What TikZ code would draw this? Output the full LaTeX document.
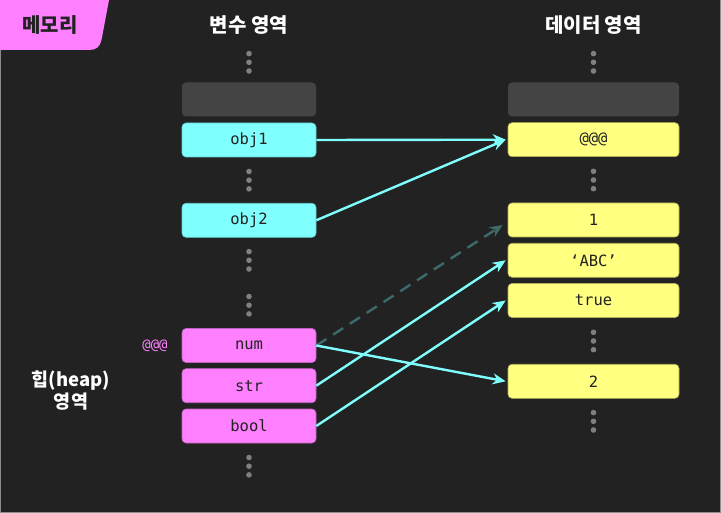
\documentclass[tikz,border=0pt]{standalone}
\usepackage{fontspec}
\usetikzlibrary{arrows.meta}
\newfontfamily\kr{Noto Sans CJK KR}
\newfontfamily\mono{DejaVu Sans Mono}
\definecolor{bg}{HTML}{222222}
\definecolor{cy}{HTML}{80FFFF}
\definecolor{pk}{HTML}{FF80FF}
\definecolor{yl}{HTML}{FFFF80}
\definecolor{gb}{HTML}{444444}
\definecolor{dotc}{HTML}{808080}
\definecolor{dk}{HTML}{3D6B6B}
\definecolor{txt}{HTML}{222222}
\begin{document}
\begin{tikzpicture}[x=1pt,y=-1pt,
  bx/.style={rounded corners=4pt, minimum height=34pt, inner sep=0pt,
    font=\mono\fontsize{15.5}{15.5}\selectfont, text=txt},
  lbox/.style={bx, minimum width=134pt},
  rbox/.style={bx, minimum width=171pt},
  cybox/.style={lbox, fill=cy, draw=cy!80!black, line width=0.6pt},
  pkbox/.style={lbox, fill=pk, draw=pk!75!black, line width=0.6pt},
  ylbox/.style={rbox, fill=yl, draw=yl!70!black, line width=0.6pt},
  gbox/.style={fill=gb, draw=none},
  hdr/.style={font=\kr\bfseries\fontsize{20}{22}\selectfont, text=white},
  arr/.style={draw=cy, line width=2.4pt, -{Stealth[length=13pt,width=11pt]}},
  darr/.style={draw=dk, line width=2.4pt, dash pattern=on 12pt off 8pt, -{Stealth[length=13pt,width=11pt]}},
  vdots/.pic={\fill[dotc] (0,-8.7) circle (2.8pt) (0,0) circle (2.8pt) (0,8.7) circle (2.8pt);}
]
\fill[bg] (0,0) rectangle (721,513);
\useasboundingbox (0,0) rectangle (721,513);
\draw[dotc!90!white, line width=1.2pt] (0.6,0) -- (0.6,512.4) -- (720.4,512.4) -- (720.4,0);

% tab
\fill[pk] (0,0) -- (109,0) -- (101.5,40) .. controls (100,47) and (96,50) .. (89,50) -- (0,50) -- cycle;
\node[font=\kr\bfseries\fontsize{20}{22}\selectfont, text=txt] (tab) at (50,25) {메모리};

% headers
\node[hdr] (hv) at (249,25) {변수 영역};
\node[hdr] (hd) at (593.5,25) {데이터 영역};

% left column
\node[lbox, gbox] (lg) at (249,99.5) {};
\node[cybox] (obj1) at (249,140) {obj1};
\node[cybox] (obj2) at (249,220.3) {obj2};
\node[pkbox] (num) at (249,345.5) {num};
\node[pkbox] (str) at (249,385.7) {str};
\node[pkbox] (bool) at (249,426) {bool};

% right column
\node[rbox, gbox] (rg) at (593.5,99.5) {};
\node[ylbox] (at1) at (593.5,139.7) {@@@};
\node[ylbox] (one) at (593.5,220) {1};
\node[ylbox] (abc) at (593.5,260.3) {‘ABC’};
\node[ylbox] (tru) at (593.5,300.5) {true};
\node[ylbox] (two) at (593.5,381.3) {2};

% dots
\foreach \p in {(249,62.3),(249,180.2),(249,260.3),(249,305.2),(249,466.2),
                (593.5,62.3),(593.5,180),(593.5,341),(593.5,421.3)}
  \pic at \p {vdots};

% labels
\node[font=\mono\fontsize{14}{14}\selectfont, text=pk] (addr) at (155,345.5) {@@@};
\node[font=\kr\bfseries\fontsize{18.5}{22}\selectfont, text=white, align=center] (heap) at (71,391) {힙(heap)\\영역};

% connectors
\draw[arr] (obj1.east) -- ([xshift=-2pt]at1.west);
\draw[arr] (obj2.east) -- ([xshift=-2pt]at1.west);
\draw[darr] (num.east) -- ([shift={(-5pt,-5pt)}]one.west);
\draw[arr] (num.east) -- ([xshift=-2pt]two.west);
\draw[arr] (str.east) -- ([xshift=-2pt]abc.west);
\draw[arr] (bool.east) -- ([xshift=-2pt]tru.west);
\end{tikzpicture}
\end{document}
